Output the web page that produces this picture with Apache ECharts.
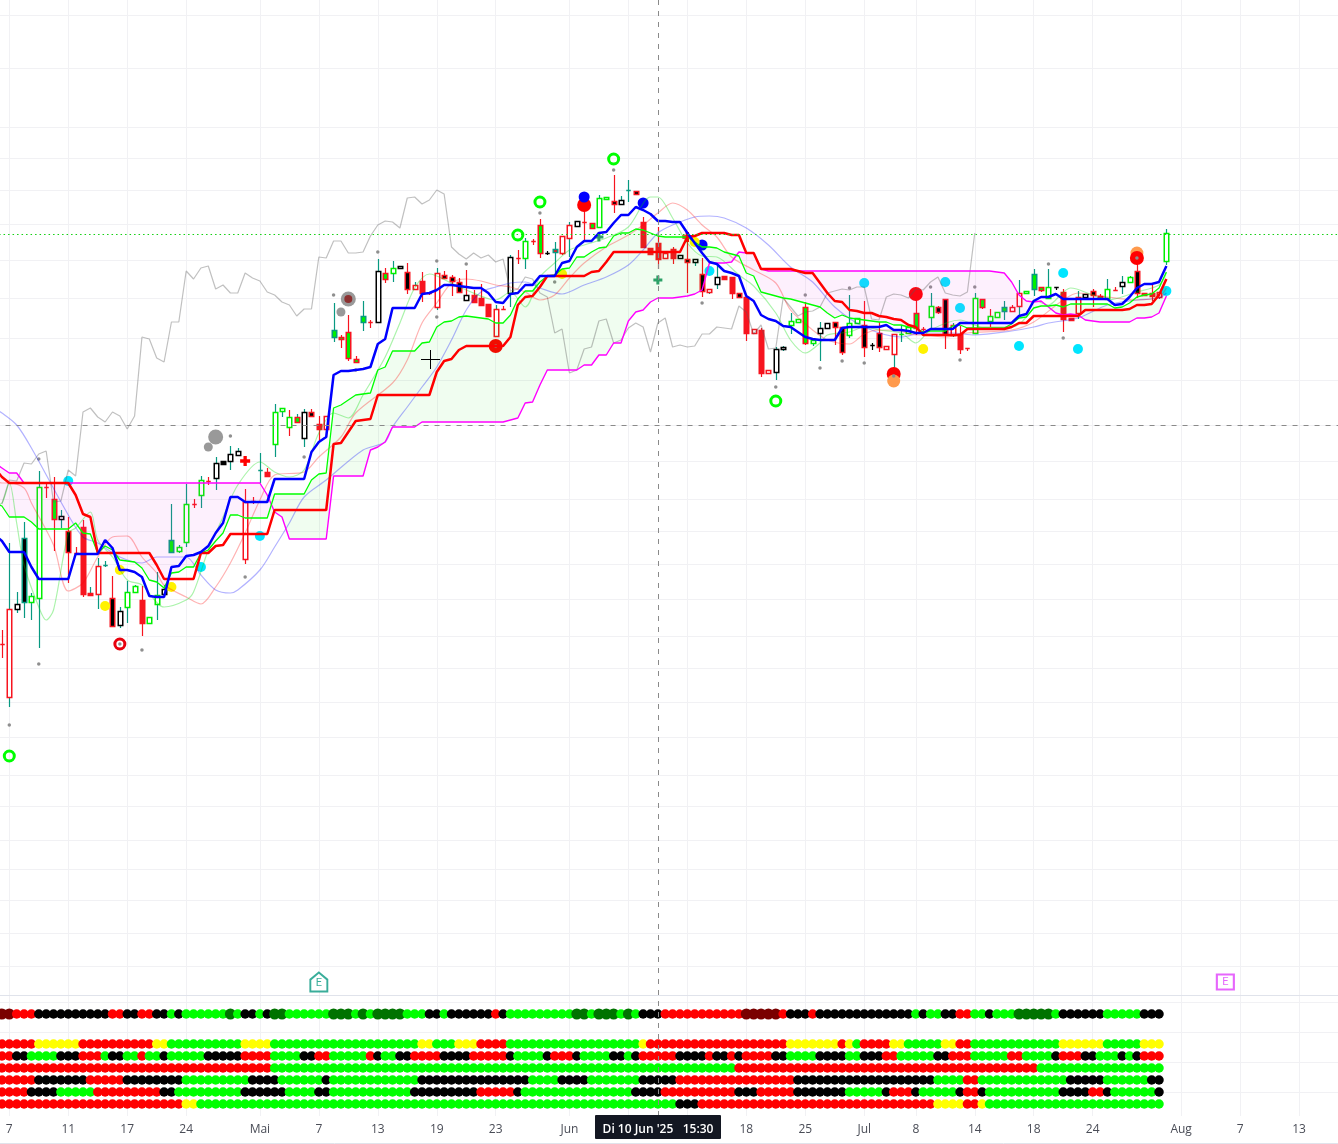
<!DOCTYPE html>
<html>
<head>
<meta charset="utf-8">
<style>
  html, body { margin: 0; padding: 0; background: #fff; }
  #main { width: 1338px; height: 1144px; }
</style>
<script src="https://cdn.jsdelivr.net/npm/echarts@6/dist/echarts.min.js"></script>
</head>
<body>
<div id="main"></div>
<script>
// bar number: -2 is just off the left edge, 0 is the bar labelled "7", 157 the last candle
var firstBar = -2, lastBar = 182;

// time scale
var tickLabelBars = [0, 8, 16, 24, 34, 42, 50, 58, 66, 76, 100, 108, 116, 123, 131, 139, 147, 159, 167, 175];
var tickLabels = ['7', '11', '17', '24', 'Mai', '7', '13', '19', '23', 'Jun', '18', '25', 'Jul', '8', '14', '18', '24', 'Aug', '7', '13'];
var hiddenTickBars = [84, 92]; // under the crosshair label

// price scale has no labels in the picture, prices are in chart units
var priceGrid = [985, 932, 873, 842, 810, 776, 740, 702, 662, 620, 575, 539, 501, 469, 436, 401, 364, 332, 298, 263, 225, 194, 160, 131, 100, 67, 34];
var crosshairPrice = 575, lastPrice = 766, crosshairBar = 88;

// candles, from bar -1
var candleOpen = [356,
  303,391,462,398,402,513,501,481,469,447,
  473,407,406,435,402,375,393,408,400,377,
  396,406,460,449,458,496,505,519,522,539,
  539,545,441,499,530,528,556,589,573,583,
  562,588,576,571,670,663,668,641,684,678,
  678,727,727,732,728,711,719,707,693,725,
  723,718,700,705,702,696,664,691,707,742,
  742,759,775,747,751,747,762,774,778,777,
  773,801,799,796,810,809,778,752,757,742,
  751,742,741,738,726,708,716,724,723,707,
  703,667,670,627,628,651,675,678,693,657,
  667,672,678,673,665,677,675,655,667,651,
  646,666,667,687,671,683,693,701,665,666,
  652,667,701,679,683,693,689,694,707,726,
  713,702,713,708,682,687,703,709,704,702,
  710,714,718,729,707,707,703,739];
var candleClose = [356,
  391,396,398,404,513,513,481,484,448,447,
  406,405,434,435,374,389,408,414,377,383,
  405,411,448,453,496,496,520,519,537,536,
  546,549,498,499,530,524,588,592,583,578,
  588,584,571,584,663,661,642,638,678,678,
  729,721,732,734,711,715,707,707,727,722,
  719,708,705,698,695,684,691,691,743,742,
  759,759,747,747,748,764,775,779,778,772,
  802,803,796,800,810,806,753,746,741,747,
  742,745,738,741,709,711,723,721,707,703,
  667,671,627,630,651,653,679,681,657,660,
  672,677,673,648,677,682,653,655,653,654,
  666,666,673,672,671,694,688,666,675,651,
  652,702,693,684,688,689,693,707,709,711,
  710,713,713,681,680,703,706,705,702,711,
  710,718,723,707,705,704,708,767];
var candleHigh = [370,
  457,408,478,407,529,518,523,490,483,453,
  480,413,442,439,424,393,419,415,414,383,
  428,415,496,455,516,501,524,523,543,539,
  554,552,511,503,547,532,596,592,590,586,
  591,591,584,584,697,665,685,644,699,680,
  741,732,739,734,737,718,728,708,732,729,
  725,722,730,710,716,696,695,694,745,750,
  762,761,781,749,758,764,778,779,800,777,
  805,803,825,804,820,809,783,752,773,747,
  753,745,767,741,742,711,734,724,723,707,
  703,671,672,630,653,654,687,681,698,660,
  678,677,678,673,705,682,699,657,678,654,
  666,675,673,701,673,707,694,701,677,674,
  652,707,701,691,688,699,695,720,709,731,
  713,731,713,711,682,709,706,711,706,721,
  713,724,724,746,707,715,708,771];
var candleLow = [342,
  293,387,382,380,352,502,449,472,417,445,
  403,405,391,433,373,372,377,407,364,377,
  380,406,448,447,453,492,492,515,510,536,
  530,545,436,496,517,524,543,583,564,578,
  553,584,558,563,658,652,639,638,669,672,
  678,717,718,732,706,711,698,705,690,721,
  704,708,699,698,695,684,664,690,693,736,
  731,755,742,745,726,745,743,774,760,772,
  773,801,787,796,798,806,753,746,731,742,
  736,742,707,734,703,706,711,721,701,703,
  659,667,623,627,620,649,666,678,655,654,
  639,672,655,645,662,677,643,650,648,651,
  632,658,667,665,669,672,686,651,663,646,
  649,667,691,673,683,680,689,684,707,704,
  708,702,710,668,680,681,700,693,702,702,
  709,706,718,702,705,699,701,735];
// W white, R red, G lime, K black, T teal
var candleFill = 'R' + 'WWKWWRGWKR' + 'RRWTKWWWRW' + 'WWGWWRWRWK' + 'WWWRTRWWWG' + 'WKRWGGGGGR' + 'WGWWKWRRWK' + 'KKWRRRWRWR' + 'WRGKRWWWRG' + 'WWKWTKRRRW' + 'RWKWKWWRRK' + 'RWRWWWWWGW' + 'WWKKWWKKKW' + 'WGWGRWKKWR' + 'RWGWWGWWWG' + 'GWKRRWWKGW' + 'RWWKRRWW';
var candleEdge = 'R' + 'RKTGGRRKRR' + 'RRRTRKGGRG' + 'GKTGGRGRKK' + 'KKRRTRGGGR' + 'KRRRTRRRTR' + 'KRGKRRRRRR' + 'RRKRRRRRKR' + 'GRRKTRRKRR' + 'GGRKTRRRRR' + 'RKRKRRKRRR' + 'RRRRKKGGRG' + 'KKRRGGRKRR' + 'RGGRRGRRRR' + 'RGRGGTRRGT' + 'RGKRRRKRRG' + 'RKGRRRRG';
var candleWick = 'R' + 'TTTTTRRTRR' + 'RTTTRTTTRG' + 'TTTTTRTRTK' + 'TTRRTRTTRT' + 'TRRRTRRRTR' + 'TRTKRTRRTR' + 'RRRRRRTRTR' + 'TRRKTRTKRR' + 'TGRTTRRRRR' + 'RKRTRTTRRR' + 'RRRRTTTGRT' + 'TKRRTGRKRR' + 'TTGRRTRRTR' + 'RTRRGTRTGT' + 'RTKRRTTRRT' + 'RTGRRRRT';
var candleColors = { W: '#ffffff', R: '#f7141f', G: '#00f000', K: '#000000', T: '#089981' };

// ichimoku lines, from bar -2
var tenkan = [465,459,
  448,448,448,433,421,421,421,421,421,446,
  446,446,446,460,452,430,430,428,423,404,
  403,403,433,434,444,445,448,454,467,477,
  503,503,498,498,498,498,521,521,521,521,
  521,548,558,563,625,629,629,630,631,633,
  656,661,692,692,692,692,706,707,710,715,
  715,714,713,712,712,707,698,697,706,707,
  715,715,724,724,724,737,739,753,759,759,
  767,768,777,785,785,793,790,786,779,779,
  778,778,767,757,747,738,736,729,727,724,
  704,699,685,681,679,674,673,668,663,661,
  660,660,660,672,673,673,673,673,673,675,
  670,670,669,667,667,671,671,671,671,677,
  677,677,677,677,677,677,677,684,686,699,
  703,703,706,701,701,701,701,701,701,701,
  695,696,703,712,716,716,718,734];
var kijun = [532,523,
  517,517,517,517,517,517,517,517,517,505,
  486,483,447,447,447,447,447,447,447,447,
  435,421,421,421,421,421,447,447,454,455,
  466,466,466,466,466,466,490,490,490,490,
  490,490,490,490,556,557,568,579,580,581,
  605,605,605,605,605,605,605,605,628,639,
  641,650,654,654,654,654,654,654,663,695,
  703,704,713,724,724,724,724,724,724,728,
  729,738,748,748,748,748,748,748,748,748,
  748,748,763,764,767,767,767,767,765,765,
  747,747,731,731,731,731,731,729,727,727,
  717,707,699,698,690,689,687,687,684,683,
  681,680,675,673,665,665,665,665,665,665,
  671,671,671,671,671,671,673,677,677,684,
  684,684,684,684,684,684,690,690,690,690,
  690,690,691,695,695,696,705,721];
var spanA = [497,494,
  483,483,483,478,471,471,471,471,471,477,
  467,466,447,454,450,440,439,438,432,420,
  418,412,427,428,433,433,447,450,459,467,
  485,485,482,482,482,482,506,506,506,506,
  506,520,526,527,592,595,600,605,606,607,
  630,633,649,649,649,649,657,658,673,678,
  679,683,684,683,682,681,677,677,685,701,
  709,709,718,724,725,731,732,743,743,748,
  752,753,764,767,767,771,770,767,764,763,
  763,763,763,758,753,753,752,748,746,744,
  727,724,708,706,704,702,701,699,697,695,
  693,687,682,685,682,681,680,679,678,678,
  675,675,673,672,668,669,669,669,674,675,
  672,672,672,672,672,672,676,682,683,692,
  694,694,695,693,696,696,696,696,696,696,
  692,693,697,703,705,706,712,728];
var spanB = [537,532,
  527,527,517,517,517,517,517,517,517,517,
  517,517,517,517,517,517,517,517,517,517,
  517,517,517,517,517,517,517,517,517,517,
  517,517,517,517,517,505,488,483,461,461,
  461,461,461,461,524,524,524,524,524,550,
  553,558,573,573,573,573,578,578,578,578,
  578,578,578,578,578,578,578,578,580,582,
  597,598,615,630,630,630,630,630,635,635,
  645,645,657,657,679,688,690,698,702,702,
  702,703,704,706,710,737,737,737,738,748,
  747,747,731,729,729,729,729,729,729,729,
  729,729,729,729,729,729,729,729,729,729,
  729,729,729,729,729,729,729,729,729,729,
  729,729,729,729,728,727,718,705,699,698,
  699,693,687,685,686,685,680,679,678,678,
  678,678,678,682,682,683,687,704];
// lagging line, from bar -1 up to bar 131
var chikou = [496,520,519,537,536,
  546,549,498,499,530,524,588,592,583,578,
  588,584,571,584,663,661,642,638,678,678,
  729,721,732,734,711,715,707,707,727,722,
  719,708,705,698,695,684,691,691,743,742,
  759,759,747,747,748,764,775,779,778,772,
  802,803,796,800,810,806,753,746,741,747,
  742,745,738,741,709,711,723,721,707,703,
  667,671,627,630,651,653,679,681,657,660,
  672,677,673,648,677,682,653,655,653,654,
  666,666,673,672,671,694,688,666,675,651,
  652,702,693,684,688,689,693,707,709,711,
  710,713,713,681,680,703,706,705,702,711,
  710,718,723,707,705,704,708,767];

// pale moving averages, read at the bars listed
var slowAvgBars = [-2,-1,1,3,8,10,12,15,18,20,22,24,26,28,30,31,34,36,38,40,43,48,51,52,54,56,58,60,62,64,66,68,70,72,75,78,81,84,86,88,90,93,95,97,100,103,106,109,112,116,121,124,128,131,136,139,141,145,149,153,156,157];
var slowAvg = [591,587,575,552,485,463,457,443,437,443,443,443,425,410,407,410,430,453,477,503,520,550,558,573,593,613,633,660,690,708,713,717,718,712,706,715,723,735,750,767,775,783,784,782,772,755,733,718,693,673,663,667,667,665,669,673,677,682,695,700,702,707];
var midAvgBars = [-2,-1,0,2,3,6,8,10,12,14,16,18,20,21,24,26,28,30,32,34,36,40,42,45,47,52,54,56,58,60,62,64,66,68,70,72,74,76,78,81,84,86,88,90,92,94,96,98,101,104,106,109,111,114,116,118,120,123,124,127,130,136,139,143,145,149,153,156,157];
var midAvg = [520,517,517,512,497,455,409,417,443,463,464,443,427,415,403,396,413,437,467,500,525,528,543,563,587,617,640,677,697,717,721,719,715,713,708,700,705,722,737,753,765,775,787,797,790,775,763,743,730,717,690,670,660,656,666,670,670,665,665,663,667,670,678,700,707,703,700,703,712];
var fastAvgBars = [-2,-1,0,1,2,4,5,6,8,9,11,12,14,16,18,21,24,25,27,29,31,34,36,38,40,42,44,46,48,51,53,55,57,60,62,66,68,70,72,74,76,78,81,84,87,88,90,92,94,96,99,101,104,106,108,110,111,114,116,118,121,123,125,129,132,136,138,139,141,143,144,147,149,153,156,157];
var fastAvg = [495,497,517,477,435,393,380,390,467,472,488,460,443,420,415,393,400,408,450,483,515,538,528,523,530,567,587,582,605,643,677,712,726,717,710,700,708,693,723,737,750,755,762,773,803,803,782,757,744,743,725,714,687,660,647,657,665,668,673,670,667,657,670,680,673,673,683,700,695,708,712,705,700,708,715,727];

// signal dots on the candles
var dotBars = [0,4,4,18,15,30,40,32,44,50,58,58,62,66,72,74,82,47,94,104,108,110,113,114,116,120,125,129,131,141,143,153];
var dotPrices = [275,541,336,350,356,564,543,423,705,748,739,683,736,654,787,718,830,630,697,613,705,632,639,712,637,624,713,640,713,736,662,742];
var cyanBars = [8,26,34,95,116,127,129,137,143,145,157];
var cyanPrices = [519,433,464,729,717,718,692,654,727,651,709];
var yellowBars = [15,13,22,75,93,124];
var yellowPrices = [430,394,413,726,758,651];
var blueBars = [78,86,94];
var bluePrices = [803,797,755];
var redBars = [78,123,66,120,153];
var redPrices = [795,706,654,626,742];
var orangeUnderBars = [153], orangeUnderPrices = [747];
var orangeOverBars = [120], orangeOverPrices = [619];
var greenRingBars = [0,104,69,72,82];
var greenRingPrices = [244,599,765,798,841];
var redRingBars = [15], redRingPrices = [356];
var redPlusBars = [32,92], redPlusPrices = [539,763];
var tealPlusBars = [80,88], tealPlusPrices = [763,720];
var greyBigBars = [28,46], greyBigPrices = [563,701];
var greySmallBars = [27,45], greySmallPrices = [553,688];
var maroonBars = [46], maroonPrices = [701];

// dots pane: each run is a colour and the last bar it reaches, starting at bar -1
var rowValues = [8.5, 6, 5, 4, 3, 2, 1];
var rowRuns = [
  'M0 R3 K13 R15 K17 R19 K21 G22 K23 G29 D30 G31 K33 G34 K35 D37 G43 D46 G47 D48 G49 D53 G56 K58 G59 K65 R66 K67 G76 D78 G79 D82 G83 D84 G85 K88 R99 M104 R105 K108 R109 K122 G123 K124 G126 K128 R130 G132 K133 G136 D141 G142 K148 G153 K156',
  'R3 Y9 R19 Y21 G31 Y35 G55 Y57 G60 Y63 R67 G85 Y86 R105 Y112 R113 Y114 G115 R119 Y121 G126 Y128 R130 G142 Y148 G153 Y156',
  'R0 K2 G6 K9 R12 G13 K15 G17 R18 G20 K21 G26 K31 R35 G39 K41 R43 G48 R49 K50 G52 K54 R58 K62 R67 K68 G72 K73 R76 K77 G81 K83 G84 K85 R90 K94 R95 K97 R98 K99 R103 K105 G109 K113 G115 K118 R120 G125 K127 R130 G135 R137 G141 K142 R145 K147 G150 K151 G152 K153 R156',
  'R35 G98 R139 G156',
  'R3 K10 R15 K23 G32 K36 G42 K43 G55 K70 G74 K78 G85 K90 R106 K125 G129 R131 G143 K148 G154 K156',
  'R2 K6 G11 R20 K22 G31 K37 G41 K43 G54 K63 R68 K69 G84 K88 R98 K101 R106 K113 G118 K119 R122 K123 G128 K129 R131 K132 G142 K146 R148 K149 G155 K156',
  'R23 Y25 G90 K93 R125 Y129 R131 Y132 G156'
];
var rowColors = { R: '#ff0000', G: '#00ff00', Y: '#ffff00', K: '#000000', D: '#007300', M: '#7a0000' };
var rowGrid = [9.5, 7, 4.5, 2];

var earningsBars = [42, 165], earningsPrice = 18;

function barPos(bar) { return bar - firstBar; }

var categories = [];
for (var b = firstBar; b <= lastBar; b++) categories.push('');
tickLabelBars.forEach(function (bar, n) { categories[barPos(bar)] = tickLabels[n]; });

var gridTicks = tickLabelBars.concat(hiddenTickBars).map(barPos);
var labelTicks = tickLabelBars.map(barPos);

function toPoints(bars, prices) {
  return bars.map(function (bar, n) { return [barPos(bar), prices[n]]; });
}

// cloud is stacked: floor, then the green part, then the pink part
var cloudFloor = spanA.map(function (v, n) { return Math.min(v, spanB[n]); });
var cloudGreen = spanA.map(function (v, n) { return Math.max(v - spanB[n], 0); });
var cloudPink = spanA.map(function (v, n) { return Math.max(spanB[n] - v, 0); });

var candleRows = candleOpen.map(function (v, n) {
  return [n + 1, v, candleClose[n], candleLow[n], candleHigh[n]];
});

function renderCandle(params, api) {
  var n = params.dataIndex;
  var bar = api.value(0);
  var cx = Math.round(api.coord([bar, api.value(1)])[0]) + 0.5;
  var yOpen = api.coord([bar, api.value(1)])[1];
  var yClose = api.coord([bar, api.value(2)])[1];
  var yLow = api.coord([bar, api.value(3)])[1];
  var yHigh = api.coord([bar, api.value(4)])[1];
  var top = Math.round(Math.min(yOpen, yClose)) + 0.5;
  var bottom = Math.round(Math.max(yOpen, yClose)) + 0.5;
  return {
    type: 'group',
    children: [{
      type: 'line',
      shape: { x1: cx, y1: yHigh, x2: cx, y2: yLow },
      style: { stroke: candleColors[candleWick[n]], lineWidth: 1.2 }
    }, {
      type: 'rect',
      shape: { x: cx - 2.25, y: top, width: 4.5, height: bottom - top },
      style: { fill: candleColors[candleFill[n]], stroke: candleColors[candleEdge[n]], lineWidth: 1.5 }
    }]
  };
}

function rowDots() {
  var dots = [];
  rowRuns.forEach(function (runs, r) {
    var bar = -1;
    runs.split(' ').forEach(function (run) {
      var code = run.charAt(0), last = parseInt(run.slice(1), 10);
      for (; bar <= last; bar++) {
        dots.push({
          value: [barPos(bar), rowValues[r]],
          symbolSize: (code === 'D' || code === 'M') ? 11 : 9.5,
          itemStyle: { color: rowColors[code] }
        });
      }
    });
  });
  return dots;
}

function lineSeries(name, values, color, width, start, smooth) {
  return {
    name: name, type: 'line', xAxisIndex: 0, yAxisIndex: 0,
    data: start ? new Array(start).fill(null).concat(values) : values,
    showSymbol: false, symbol: 'none', silent: true,
    lineStyle: { color: color, width: width },
    smooth: smooth || false
  };
}

function paleSeries(name, bars, values, color) {
  var s = lineSeries(name, toPoints(bars, values), color, 1.2, 0, 0.3);
  return s;
}

function dotSeries(name, bars, prices, size, color, symbol, ring) {
  return {
    name: name, type: 'scatter', xAxisIndex: 0, yAxisIndex: 0,
    data: toPoints(bars, prices), symbol: symbol || 'circle', symbolSize: size, silent: true,
    itemStyle: ring ? { color: 'rgba(255,255,255,0)', borderColor: color, borderWidth: 3, opacity: 1 } : { color: color, opacity: 1 }
  };
}

function cloudSeries(name, values, fill) {
  return {
    name: name, type: 'line', xAxisIndex: 0, yAxisIndex: 0, stack: 'cloud', data: values,
    showSymbol: false, symbol: 'none', silent: true,
    lineStyle: { opacity: 0, width: 0 },
    areaStyle: fill ? { color: fill, opacity: 1 } : undefined
  };
}

var plusPath = 'path://M4 0H8V4H12V8H8V12H4V8H0V4H4Z';
var housePath = 'path://M0 6L6 0L12 6V16H0Z';
var gridColor = '#f1f1f4';
var chart = echarts.init(document.getElementById('main'), null, { renderer: 'canvas' });

var spanBLine = lineSeries('spanB', spanB, '#ff00ff', 1.4);
spanBLine.markLine = {
  silent: true, symbol: 'none', animation: false, label: { show: false },
  lineStyle: { color: '#8a8a8a', type: [5, 6], width: 1 },
  data: [
    { xAxis: barPos(crosshairBar) },
    { yAxis: crosshairPrice },
    { yAxis: lastPrice, lineStyle: { color: '#12d012', type: [1.5, 3], width: 1.2 } }
  ]
};

chart.setOption({
  animation: false,
  backgroundColor: '#ffffff',
  grid: [
    { outerBoundsMode: 'none', left: -5.44, top: 0, width: 1356.08, height: 995 },
    { outerBoundsMode: 'none', left: -5.44, top: 996, width: 1356.08, height: 120 }
  ],
  xAxis: [{
    type: 'category', gridIndex: 0, data: categories, boundaryGap: false,
    axisLine: { onZero: false, lineStyle: { color: '#e0e3eb', width: 1 } },
    axisTick: { show: false, customValues: gridTicks },
    axisLabel: { show: false },
    splitLine: { show: true, lineStyle: { color: gridColor, width: 1 } }
  }, {
    type: 'category', gridIndex: 1, data: categories, boundaryGap: false,
    axisLine: { show: false },
    axisTick: { show: false, customValues: gridTicks },
    axisLabel: { show: true, customValues: labelTicks, margin: 8, color: '#4a4d57', fontSize: 12, fontFamily: '"Open Sans", sans-serif', hideOverlap: false },
    splitLine: { show: true, lineStyle: { color: gridColor, width: 1 } }
  }],
  yAxis: [{
    type: 'value', gridIndex: 0, min: 5, max: 1000,
    axisLine: { show: false },
    axisTick: { show: false, customValues: priceGrid },
    axisLabel: { show: false },
    splitLine: { show: true, lineStyle: { color: gridColor, width: 1 } }
  }, {
    type: 'value', gridIndex: 1, min: 0, max: 10,
    axisLine: { show: false },
    axisTick: { show: false, customValues: rowGrid },
    axisLabel: { show: false },
    splitLine: { show: true, lineStyle: { color: gridColor, width: 1 } }
  }],
  series: [
    cloudSeries('cloudFloor', cloudFloor),
    cloudSeries('cloudGreen', cloudGreen, 'rgba(0,220,0,0.06)'),
    cloudSeries('cloudPink', cloudPink, 'rgba(235,60,235,0.08)'),
    lineSeries('chikou', chikou, 'rgba(90,90,90,0.38)', 1.2, 1),
    paleSeries('slowAvg', slowAvgBars, slowAvg, 'rgba(0,0,255,0.3)'),
    paleSeries('midAvg', midAvgBars, midAvg, 'rgba(255,0,0,0.3)'),
    paleSeries('fastAvg', fastAvgBars, fastAvg, 'rgba(0,220,0,0.33)'),
    spanBLine,
    lineSeries('spanA', spanA, '#00ff00', 1.3),
    lineSeries('kijun', kijun, '#ff0000', 2.5),
    lineSeries('tenkan', tenkan, '#0000ff', 2.5),
    {
      name: 'candles', type: 'custom', xAxisIndex: 0, yAxisIndex: 0, silent: true,
      data: candleRows, renderItem: renderCandle,
      encode: { x: 0, y: [1, 2, 3, 4] }
    },
    dotSeries('greyBig', greyBigBars, greyBigPrices, 15, '#999999'),
    dotSeries('greySmall', greySmallBars, greySmallPrices, 9, '#999999'),
    dotSeries('maroon', maroonBars, maroonPrices, 8, '#8c3030'),
    dotSeries('orangeUnder', orangeUnderBars, orangeUnderPrices, 13, '#ff9a4d'),
    dotSeries('red', redBars, redPrices, 14, '#ff0000'),
    dotSeries('orangeOver', orangeOverBars, orangeOverPrices, 13, '#ff9a4d'),
    dotSeries('blue', blueBars, bluePrices, 11, '#0000ff'),
    dotSeries('yellow', yellowBars, yellowPrices, 10, '#fff200'),
    dotSeries('cyan', cyanBars, cyanPrices, 10, '#00e5ff'),
    dotSeries('greenRing', greenRingBars, greenRingPrices, 10, '#00ff00', 'circle', true),
    dotSeries('redRing', redRingBars, redRingPrices, 10, '#e8000d', 'circle', true),
    dotSeries('redPlus', redPlusBars, redPlusPrices, 10, '#ff0000', plusPath),
    dotSeries('tealPlus', tealPlusBars, tealPlusPrices, 9, '#2f9e6e', plusPath),
    dotSeries('dots', dotBars, dotPrices, 3.5, '#8f8f8f'),
    {
      name: 'earnings', type: 'scatter', xAxisIndex: 0, yAxisIndex: 0, silent: true,
      data: [{
        value: [barPos(earningsBars[0]), earningsPrice],
        symbol: housePath, symbolSize: [17, 19],
        itemStyle: { color: '#fff', borderColor: '#089981', borderWidth: 2 },
        label: { show: true, formatter: 'E', color: '#089981', fontSize: 11, fontFamily: 'Roboto', position: 'inside', offset: [0, 1] }
      }, {
        value: [barPos(earningsBars[1]), earningsPrice],
        symbol: 'rect', symbolSize: [17, 15],
        itemStyle: { color: '#fff', borderColor: '#e040fb', borderWidth: 2 },
        label: { show: true, formatter: 'E', color: '#e040fb', fontSize: 11, fontFamily: 'Roboto', position: 'inside' }
      }]
    },
    {
      name: 'rows', type: 'scatter', xAxisIndex: 1, yAxisIndex: 1, silent: true,
      data: rowDots(), itemStyle: { opacity: 1 },
      markLine: {
        silent: true, symbol: 'none', animation: false, label: { show: false },
        lineStyle: { color: '#8a8a8a', type: [5, 6], width: 1 },
        data: [{ xAxis: barPos(crosshairBar) }]
      }
    }
  ],
  graphic: [
    // mouse cursor over the chart
    { type: 'line', z: 50, shape: { x1: 421, y1: 359.5, x2: 440, y2: 359.5 }, style: { stroke: '#000', lineWidth: 1 } },
    { type: 'line', z: 50, shape: { x1: 430.5, y1: 350, x2: 430.5, y2: 369 }, style: { stroke: '#000', lineWidth: 1 } },
    // bottom edge of the time scale
    { type: 'line', z: 50, shape: { x1: 0, y1: 1143.5, x2: 1338, y2: 1143.5 }, style: { stroke: '#e0e3eb', lineWidth: 1 } },
    // crosshair date label
    { type: 'rect', z: 50, shape: { x: 595, y: 1115, width: 126, height: 24, r: 1 }, style: { fill: '#131722' } },
    {
      type: 'text', z: 51, x: 658, y: 1130,
      style: { text: "Di 10 Jun '25   15:30", fill: '#ffffff', font: '600 12px "Open Sans", sans-serif', textAlign: 'center', textVerticalAlign: 'middle' }
    }
  ]
});
window.addEventListener('resize', function () {
  chart.resize();
});
</script>
</body>
</html>
